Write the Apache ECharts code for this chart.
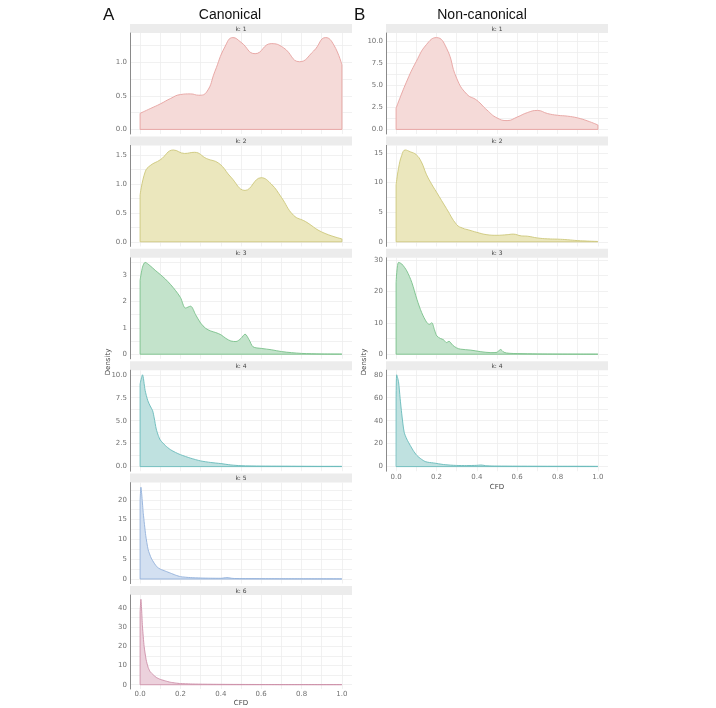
<!DOCTYPE html>
<html><head><meta charset="utf-8">
<script src="https://cdn.jsdelivr.net/npm/echarts@6/dist/echarts.min.js"></script>
<style>html,body{margin:0;padding:0;background:#fff}#c{width:716px;height:708px}</style>
</head><body><div id="c"></div>
<script>
// ---------- tick labels ----------
const cfdTicks = [0, 0.2, 0.4, 0.6, 0.8, 1.0];
const cfdGridTicks = [0, 0.1, 0.2, 0.3, 0.4, 0.5, 0.6, 0.7, 0.8, 0.9, 1.0];
const facetLabels = ['k: 1', 'k: 2', 'k: 3', 'k: 4', 'k: 5', 'k: 6'];

// ---------- Canonical ----------
const canK1X = [0,0.05,0.1,0.15,0.2,0.25,0.29,0.33,0.37,0.42,0.46,0.5,0.57,0.65,0.71,0.79,0.86,0.92,0.96,1.0];
const canK1Y = [0.24,0.31,0.38,0.46,0.52,0.53,0.51,0.56,0.86,1.23,1.37,1.30,1.13,1.28,1.22,1.01,1.17,1.37,1.26,0.96];
const canK2X = [0,0.025,0.05,0.1,0.165,0.22,0.27,0.33,0.39,0.45,0.52,0.6,0.65,0.7,0.76,0.82,0.9,1.0];
const canK2Y = [0.81,1.21,1.32,1.42,1.59,1.53,1.55,1.44,1.36,1.12,0.89,1.11,1.0,0.77,0.46,0.35,0.17,0.05];
const canK3X = [0,0.012,0.025,0.05,0.075,0.1,0.125,0.15,0.175,0.2,0.225,0.25,0.275,0.3,0.325,0.35,0.375,0.4,0.425,0.45,0.475,0.5,0.52,0.54,0.56,0.6,0.65,0.7,0.75,0.8,0.9,1.0];
const canK3Y = [2.8,3.3,3.48,3.35,3.18,3.02,2.85,2.65,2.42,2.15,1.75,1.82,1.5,1.18,0.98,0.88,0.82,0.74,0.6,0.5,0.48,0.6,0.76,0.55,0.28,0.22,0.17,0.1,0.06,0.03,0.01,0.005];
const canK4X = [0,0.012,0.025,0.038,0.05,0.062,0.07,0.08,0.09,0.1,0.125,0.15,0.175,0.2,0.25,0.3,0.35,0.4,0.45,0.5,0.6,0.7,0.8,0.9,1.0];
const canK4Y = [9.0,10.0,8.3,7.2,6.6,6.1,5.3,4.1,3.4,2.9,2.3,1.85,1.55,1.3,0.92,0.62,0.45,0.33,0.18,0.1,0.06,0.05,0.04,0.03,0.03];
const canK5X = [0,0.004,0.016,0.028,0.04,0.055,0.07,0.085,0.1,0.125,0.15,0.175,0.2,0.25,0.3,0.35,0.4,0.43,0.46,0.5,0.6,0.7,0.8,0.9,1.0];
const canK5Y = [20,23.2,16.5,11,7.4,5.3,4.0,3.0,2.5,2.0,1.5,1.0,0.6,0.35,0.25,0.2,0.18,0.35,0.15,0.1,0.08,0.06,0.05,0.04,0.03];
const canK6X = [0,0.004,0.012,0.02,0.03,0.04,0.05,0.065,0.08,0.1,0.125,0.15,0.175,0.2,0.25,0.3,0.4,0.5,0.6,0.7,0.8,0.9,1.0];
const canK6Y = [38,44.5,30,20,13,9,6.8,5.2,3.8,2.8,2.0,1.3,0.9,0.6,0.4,0.3,0.2,0.15,0.12,0.1,0.1,0.08,0.08];
const canYTicks = [[0,0.5,1.0],[0,0.5,1.0,1.5],[0,1,2,3],[0,2.5,5,7.5,10],[0,5,10,15,20],[0,10,20,30,40]];
const canYMinor = [[0.25,0.75,1.25],[0.25,0.75,1.25],[0.5,1.5,2.5,3.5],[1.25,3.75,6.25,8.75],[2.5,7.5,12.5,17.5,22.5],[5,15,25,35]];
const canYDigits = [1,1,0,1,0,0];

// ---------- Non-canonical ----------
const ncK1X = [0,0.05,0.1,0.15,0.2,0.25,0.3,0.35,0.4,0.45,0.5,0.55,0.6,0.65,0.7,0.75,0.8,0.85,0.9,0.95,1.0];
const ncK1Y = [2.4,5.3,7.7,9.6,10.4,9.2,5.8,4.0,3.3,2.2,1.3,1.0,1.4,1.9,2.15,1.8,1.6,1.5,1.3,0.95,0.5];
const ncK2X = [0,0.012,0.028,0.045,0.07,0.1,0.125,0.15,0.175,0.2,0.25,0.3,0.33,0.36,0.4,0.45,0.5,0.55,0.58,0.62,0.65,0.7,0.75,0.8,0.85,0.9,0.95,1.0];
const ncK2Y = [9.6,12.4,14.6,15.5,15.2,14.7,13.5,11.4,9.8,8.4,5.6,2.9,2.3,2.0,1.6,1.2,1.1,1.2,1.3,1.0,0.95,0.65,0.5,0.45,0.35,0.2,0.12,0.06];
const ncK3X = [0,0.012,0.028,0.053,0.078,0.103,0.127,0.152,0.165,0.177,0.19,0.202,0.22,0.235,0.25,0.262,0.28,0.3,0.32,0.37,0.42,0.47,0.5,0.517,0.535,0.56,0.6,0.7,0.8,0.9,1.0];
const ncK3Y = [22.8,29.2,28.7,26.5,22.8,17.5,13.2,10.1,9.5,10.0,7.8,5.8,5.0,4.6,3.7,4.1,2.9,2.0,1.6,1.3,0.8,0.5,0.6,1.5,0.6,0.3,0.2,0.1,0.05,0.03,0.02];
const ncK4X = [0,0.003,0.012,0.02,0.028,0.04,0.053,0.07,0.085,0.103,0.125,0.144,0.165,0.185,0.21,0.235,0.27,0.3,0.35,0.4,0.42,0.45,0.5,0.6,0.7,0.8,0.9,1.0];
const ncK4Y = [60,80,74,59.5,46,30,24,18.5,14,9.7,6.5,4.4,3.6,3.2,2.5,1.8,1.3,1.0,0.9,1.1,1.4,0.7,0.5,0.4,0.35,0.3,0.3,0.25];
const ncYTicks = [[0,2.5,5,7.5,10],[0,5,10,15],[0,10,20,30],[0,20,40,60,80]];
const ncYMinor = [[1.25,3.75,6.25,8.75],[2.5,7.5,12.5],[5,15,25],[10,30,50,70]];
const ncYDigits = [1,0,0,0];

// ---------- styles ----------
const lineColors = ['#e6a29f','#cdc77a','#79c18a','#68baba','#92b0da','#cd8ea8'];
const fillColors = ['#f5dad8','#ebe7bd','#c3e3cb','#bfe1e0','#d3e0f1','#ecd1dc'];
const smoothness = [0.5, 0.45, 0.3, 0.25, 0.2, 0.2];

const columns = [
  {left: 130, xs: [canK1X,canK2X,canK3X,canK4X,canK5X,canK6X], ys: [canK1Y,canK2Y,canK3Y,canK4Y,canK5Y,canK6Y],
   ticks: canYTicks, minor: canYMinor, digits: canYDigits, nameGap: 11},
  {left: 386, xs: [ncK1X,ncK2X,ncK3X,ncK4X], ys: [ncK1Y,ncK2Y,ncK3Y,ncK4Y],
   ticks: ncYTicks, minor: ncYMinor, digits: ncYDigits, nameGap: 12}
];

const PW = 222, STRIP0 = 24, PITCH = 112.4, STRIP_H = 9, PH = 101;
const grids = [], xAxes = [], yAxes = [], series = [], graphics = [];
const tickFont = {fontSize: 7, color: '#707070', fontFamily: 'DejaVu Sans'};
let gi = 0;
columns.forEach(col => {
  const n = col.xs.length;
  for (let i = 0; i < n; i++) {
    const stripTop = STRIP0 + i * PITCH;
    const xs = col.xs[i], ys = col.ys[i];
    const M = Math.max.apply(null, ys);
    const isBottom = i === n - 1;
    grids.push({left: col.left, top: stripTop + STRIP_H, width: PW, height: PH, containLabel: false});
    graphics.push({type: 'rect', shape: {x: col.left, y: stripTop, width: PW, height: STRIP_H},
      style: {fill: '#ececec'}, silent: true});
    graphics.push({type: 'text', x: col.left + PW / 2, y: stripTop + STRIP_H / 2 + 0.5,
      style: {text: facetLabels[i], fill: '#444', fontSize: 6, fontFamily: 'DejaVu Sans', align: 'center', verticalAlign: 'middle'}});
    xAxes.push({gridIndex: gi, type: 'value', min: -0.05, max: 1.05,
      axisLine: {show: false}, axisTick: {show: false, customValues: cfdGridTicks},
      axisLabel: Object.assign({show: isBottom, customValues: cfdTicks, margin: 2, formatter: v => v.toFixed(1)}, tickFont),
      splitLine: {show: true, lineStyle: {color: '#eeeeee', width: 0.8}},
      name: isBottom ? 'CFD' : '', nameLocation: 'middle', nameGap: col.nameGap,
      nameTextStyle: {fontSize: 7, color: '#444', fontFamily: 'DejaVu Sans'}});
    const d = col.digits[i];
    yAxes.push({gridIndex: gi, type: 'value', min: -0.05 * M, max: 1.05 * M,
      axisLine: {show: true, onZero: false, lineStyle: {color: '#8a8a8a', width: 1}},
      axisTick: {show: false, customValues: col.ticks[i].concat(col.minor[i])},
      axisLabel: Object.assign({customValues: col.ticks[i], margin: 3, formatter: v => v.toFixed(d)}, tickFont),
      splitLine: {show: true, lineStyle: {color: '#eeeeee', width: 0.8}}});
    const pts = xs.map((x, j) => [x, ys[j]]);
    series.push({type: 'line', xAxisIndex: gi, yAxisIndex: gi, data: pts, smooth: smoothness[i],
      symbol: 'none', lineStyle: {color: lineColors[i], width: 0.9},
      areaStyle: {color: fillColors[i], opacity: 1}, silent: true, animation: false, z: 2});
    const last = xs.length - 1;
    series.push({type: 'line', xAxisIndex: gi, yAxisIndex: gi,
      data: [[xs[0], ys[0]], [xs[0], 0], [xs[last], 0], [xs[last], ys[last]]],
      symbol: 'none', lineStyle: {color: lineColors[i], width: 0.9}, silent: true, animation: false, z: 3});
    gi++;
  }
});

// titles and axis titles
graphics.push({type: 'text', x: 103, y: 15, style: {text: 'A', fontSize: 17, fill: '#111', fontFamily: 'Liberation Sans', verticalAlign: 'middle'}});
graphics.push({type: 'text', x: 230, y: 15, style: {text: 'Canonical', fontSize: 14, fill: '#111', fontFamily: 'Liberation Sans', align: 'center', verticalAlign: 'middle'}});
graphics.push({type: 'text', x: 354, y: 15, style: {text: 'B', fontSize: 17, fill: '#111', fontFamily: 'Liberation Sans', verticalAlign: 'middle'}});
graphics.push({type: 'text', x: 482, y: 15, style: {text: 'Non-canonical', fontSize: 14, fill: '#111', fontFamily: 'Liberation Sans', align: 'center', verticalAlign: 'middle'}});
graphics.push({type: 'text', x: 108, y: 362, rotation: Math.PI / 2, style: {text: 'Density', fontSize: 7, fill: '#444', fontFamily: 'DejaVu Sans', align: 'center', verticalAlign: 'middle'}});
graphics.push({type: 'text', x: 364, y: 362, rotation: Math.PI / 2, style: {text: 'Density', fontSize: 7, fill: '#444', fontFamily: 'DejaVu Sans', align: 'center', verticalAlign: 'middle'}});

const chart = echarts.init(document.getElementById('c'), null, {renderer: 'canvas'});
chart.setOption({
  backgroundColor: '#ffffff',
  animation: false,
  grid: grids, xAxis: xAxes, yAxis: yAxes, series: series,
  graphic: graphics
});
</script>
</body></html>
